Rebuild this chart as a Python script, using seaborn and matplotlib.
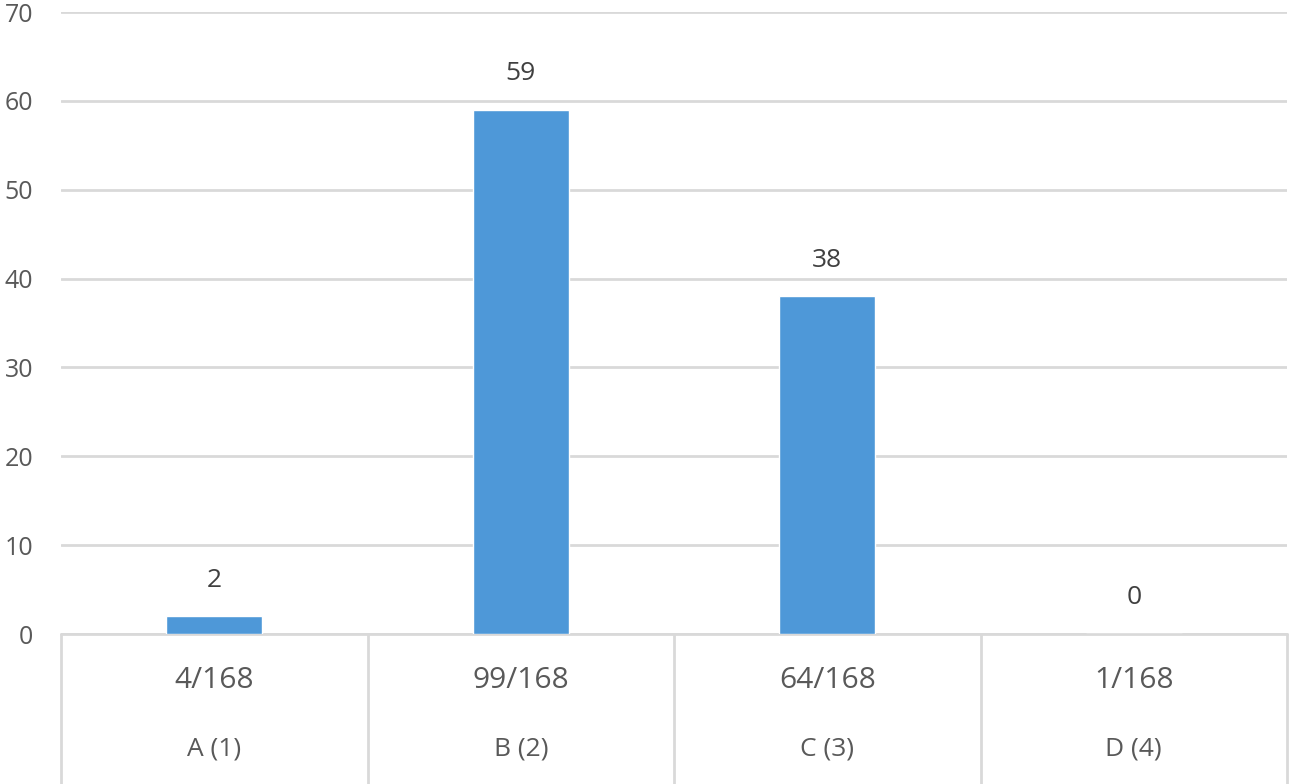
import matplotlib
matplotlib.use("Agg")
import matplotlib.pyplot as plt
import matplotlib.transforms as mtransforms
import seaborn as sns
import pandas as pd

categories = ["A (1)", "B (2)", "C (3)", "D (4)"]
fractions = ["4/168", "99/168", "64/168", "1/168"]
values = [2, 59, 38, 0]
yticks = [0, 10, 20, 30, 40, 50, 60, 70]

sns.set_theme(style="white")
plt.rcParams["font.family"] = ["Open Sans", "DejaVu Sans"]

df = pd.DataFrame({"category": categories, "value": values})

fig = plt.figure(figsize=(12.9, 7.84), dpi=100)
ax = fig.add_axes([61 / 1290, 1 - 634 / 784, (1287 - 61) / 1290, (634 - 12) / 784])

sns.barplot(data=df, x="category", y="value", color="#4E98D8", width=0.313,
            saturation=1, ax=ax, zorder=3)

ax.set_ylim(0, 70)
ax.set_xlim(-0.5, 3.5)
ax.set_yticks(yticks)
ax.set_yticklabels([str(t) for t in yticks], fontsize=18, color="#595959")
ax.tick_params(axis="y", length=0, pad=20)
ax.set_xticks([])
ax.set_xlabel("")
ax.set_ylabel("")
for s in ax.spines.values():
    s.set_visible(False)
ax.yaxis.grid(True, color="#D9D9D9", linewidth=2.0, zorder=0)
ax.set_axisbelow(True)

# data labels
for i, v in enumerate(values):
    ax.annotate(str(v), (i, v), xytext=(0, 26), textcoords="offset points",
                ha="center", va="center", fontsize=19, color="#404040")

# category table below the axis
trans = mtransforms.blended_transform_factory(ax.transData, ax.transAxes)
bottom = -(1 - 634 / 784) / ((634 - 12) / 784)
for b in [-0.5, 0.5, 1.5, 2.5, 3.5]:
    ax.plot([b, b], [0, bottom], transform=trans, color="#D9D9D9",
            linewidth=2.0, clip_on=False)
ax.plot([-0.5, 3.5], [0, 0], transform=trans, color="#D9D9D9",
        linewidth=2.0, clip_on=False)
for i, (f, c) in enumerate(zip(fractions, categories)):
    ax.text(i, -47 / 622, f, transform=trans, ha="center", va="center",
            fontsize=21.5, color="#595959")
    ax.text(i, -115 / 622, c, transform=trans, ha="center", va="center",
            fontsize=19, color="#595959")

fig.savefig("out.png", dpi=100)
